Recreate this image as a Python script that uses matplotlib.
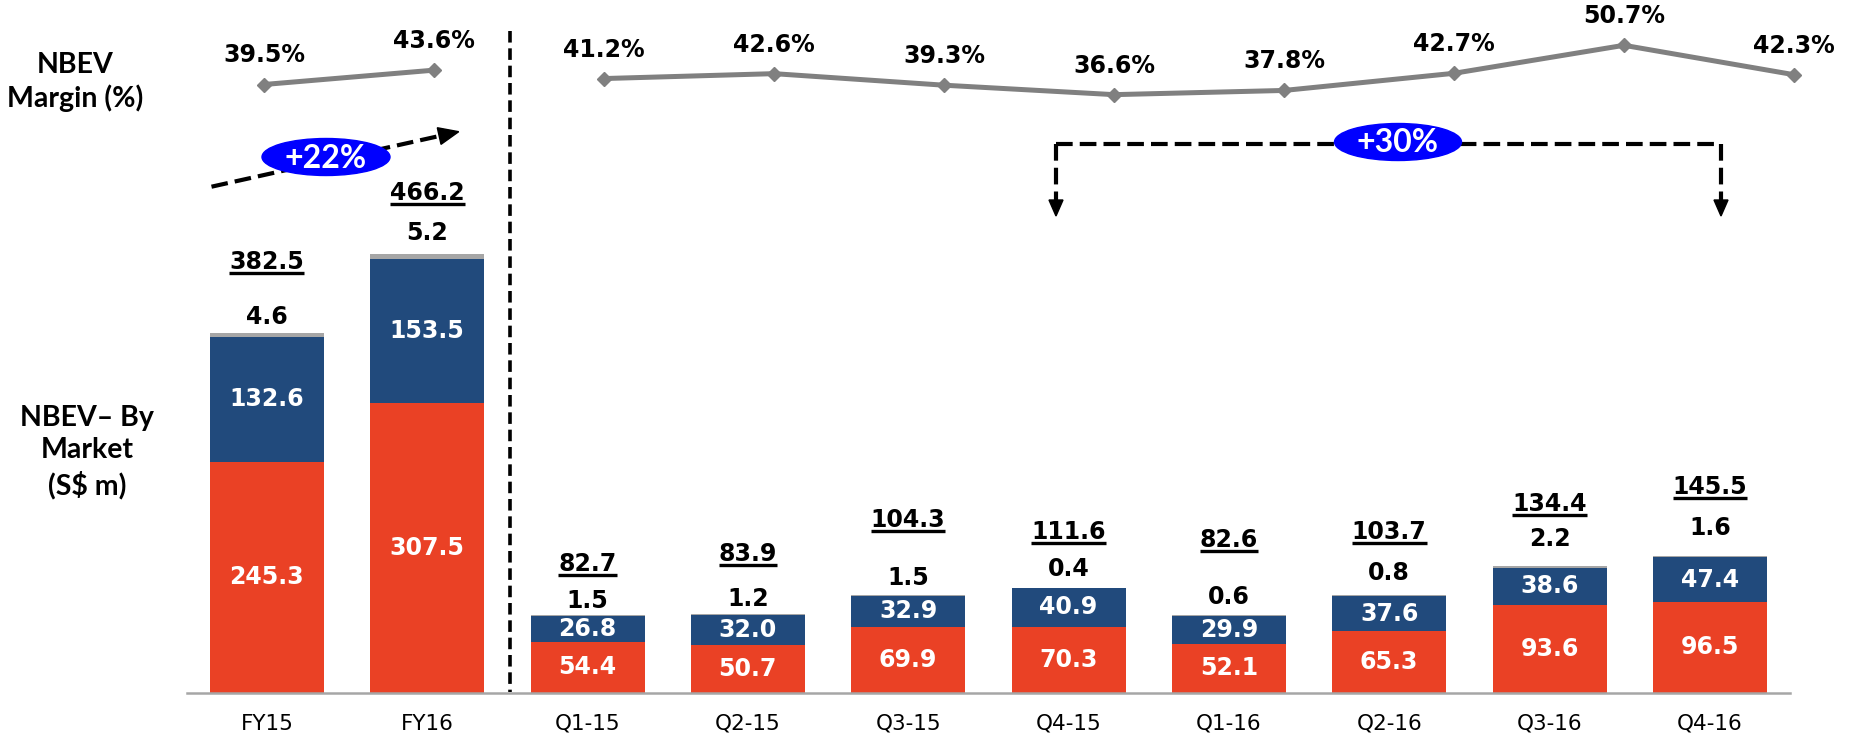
import numpy as np
import matplotlib.pyplot as plt
from matplotlib.patches import Ellipse, Polygon

periods = ["FY15", "FY16", "Q1-15", "Q2-15", "Q3-15", "Q4-15",
           "Q1-16", "Q2-16", "Q3-16", "Q4-16"]
red_vals = [245.3, 307.5, 54.4, 50.7, 69.9, 70.3, 52.1, 65.3, 93.6, 96.5]
blue_vals = [132.6, 153.5, 26.8, 32.0, 32.9, 40.9, 29.9, 37.6, 38.6, 47.4]
grey_vals = [4.6, 5.2, 1.5, 1.2, 1.5, 0.4, 0.6, 0.8, 2.2, 1.6]
totals = [382.5, 466.2, 82.7, 83.9, 104.3, 111.6, 82.6, 103.7, 134.4, 145.5]
margin = [39.5, 43.6, 41.2, 42.6, 39.3, 36.6, 37.8, 42.7, 50.7, 42.3]

# hand placed label offsets above the bar top (pixels), as on the slide
grey_off = [16, 21, 14, 15, 17, 19, 18, 22, 27, 28]
total_off = [71, 61, 51, 60, 75, 56, 75, 63, 62, 69]

RED = "#EA4125"
BLUE = "#214A7C"
GREY = "#A6A6A6"
LINE = "#808080"
W, H = 1852, 738
PT = 0.72  # points per pixel at dpi 100

fig = plt.figure(figsize=(W / 100, H / 100), dpi=100)

# bars
ax = fig.add_axes([186.7 / W, 45.3 / H, (1790 - 186.7) / W, 700 * 0.941 / H])
x = np.arange(len(periods))
red = np.array(red_vals)
blue = np.array(blue_vals)
grey = np.array(grey_vals)
bw = 0.711
ax.bar(x, red, bw, color=RED)
ax.bar(x, blue, bw, bottom=red, color=BLUE)
ax.bar(x, grey, bw, bottom=red + blue, color=GREY)
ax.set_xlim(-0.5, len(periods) - 0.5)
ax.set_ylim(0, 700)
ax.set_xticks(x)
ax.set_xticklabels(periods, fontsize=15.5)
ax.tick_params(axis="x", length=0, pad=15)
ax.set_yticks([])
for s in ["left", "right", "top"]:
    ax.spines[s].set_visible(False)
ax.spines["bottom"].set_color(GREY)
ax.spines["bottom"].set_linewidth(1.8)
ax.patch.set_alpha(0)

num = dict(fontsize=17, fontweight="bold", ha="center", va="center")
tot_texts = []
for i in range(len(periods)):
    ax.text(i, red[i] / 2, f"{red[i]:.1f}", color="white", **num)
    ax.text(i, red[i] + blue[i] / 2, f"{blue[i]:.1f}", color="white", **num)
    top = red[i] + blue[i] + grey[i]
    ax.annotate(f"{grey[i]:.1f}", (i, top), xytext=(0, grey_off[i] * PT),
                textcoords="offset points", color="black", **num)
    t = ax.annotate(f"{totals[i]:.1f}", (i, top), xytext=(0, total_off[i] * PT),
                    textcoords="offset points", color="black", **num)
    tot_texts.append(t)

# margin line (own x scale, like the pasted excel line chart)
lax = fig.add_axes([0, 0, 1, 1])
lax.set_xlim(-264 / 170, (W - 264) / 170)
lax.set_ylim(50.7 - (H - 45.3) / 3.5, 50.7 + 45.3 / 3.5)
lax.axis("off")
lx = np.arange(len(margin))
m = np.array(margin)
for seg in [slice(0, 2), slice(2, None)]:
    lax.plot(lx[seg], m[seg], color=LINE, lw=3.6, marker="D", ms=7)
for i, v in enumerate(m):
    lax.annotate(f"{v:.1f}%", (i, v), xytext=(0, 29 * PT), textcoords="offset points",
                 fontsize=17, fontweight="bold", ha="center", va="center")

# overlay in pixel units for the slide decorations
ov = fig.add_axes([0, 0, 1, 1])
ov.set_xlim(0, W)
ov.set_ylim(H, 0)
ov.axis("off")

lab = dict(family=["Lato", "DejaVu Sans"], fontweight="bold", fontsize=20.5,
           ha="center", va="center", linespacing=1.3)
ov.text(75, 82, "NBEV\nMargin (%)", **lab)
ov.text(87, 452, "NBEV\u2013 By\nMarket\n(S$ m)", **lab)

# divider between full year and quarters
ov.plot([510, 510], [31, 692], color="black", lw=2.6, linestyle=(0, (3.2, 1.6)))


def head(tip, tail, length, width):
    d = np.subtract(tip, tail, dtype=float)
    d = d / np.hypot(*d)
    n = np.array([-d[1], d[0]])
    base = np.array(tip) - d * length
    ov.add_patch(Polygon([tip, base + n * width / 2, base - n * width / 2],
                         closed=True, color="black", zorder=4))
    return base


dash = dict(color="black", lw=3.0, linestyle=(0, (4.0, 1.7)), zorder=3)

# +22% growth arrow
tail, tip = (211.5, 186.7), (458.7, 131.7)
b = head(tip, tail, 20, 17)
ov.plot([tail[0], b[0]], [tail[1], b[1]], **dash)

# +30% bracket
xl, xr, yb, yt = 1056, 1721, 144, 216
ov.plot([xl, xr], [yb, yb], **dash)
for xx in [xl, xr]:
    b = head((xx, yt), (xx, yb), 16, 14)
    ov.plot([xx, xx], [yb, b[1]], **dash)

ell = dict(family=["Lato", "DejaVu Sans"], fontweight="bold", fontsize=23,
           color="white", ha="center", va="center", zorder=6)
ov.add_patch(Ellipse((326, 157), 128, 37, color="#0000FF", zorder=5))
ov.text(326, 158, "+22%", **ell)
ov.add_patch(Ellipse((1398, 142), 127, 37, color="#0000FF", zorder=5))
ov.text(1398, 143, "+30%", **ell)

# underline the totals
fig.canvas.draw()
r = fig.canvas.get_renderer()
inv = ov.transData.inverted()
for t in tot_texts:
    bb = t.get_window_extent(r)
    (x0, y0), (x1, _) = inv.transform([(bb.x0, bb.y0), (bb.x1, bb.y1)])
    ov.plot([x0, x1], [y0 - 1, y0 - 1], color="black", lw=2.4, solid_capstyle="butt")

fig.savefig("out.png", dpi=100)
